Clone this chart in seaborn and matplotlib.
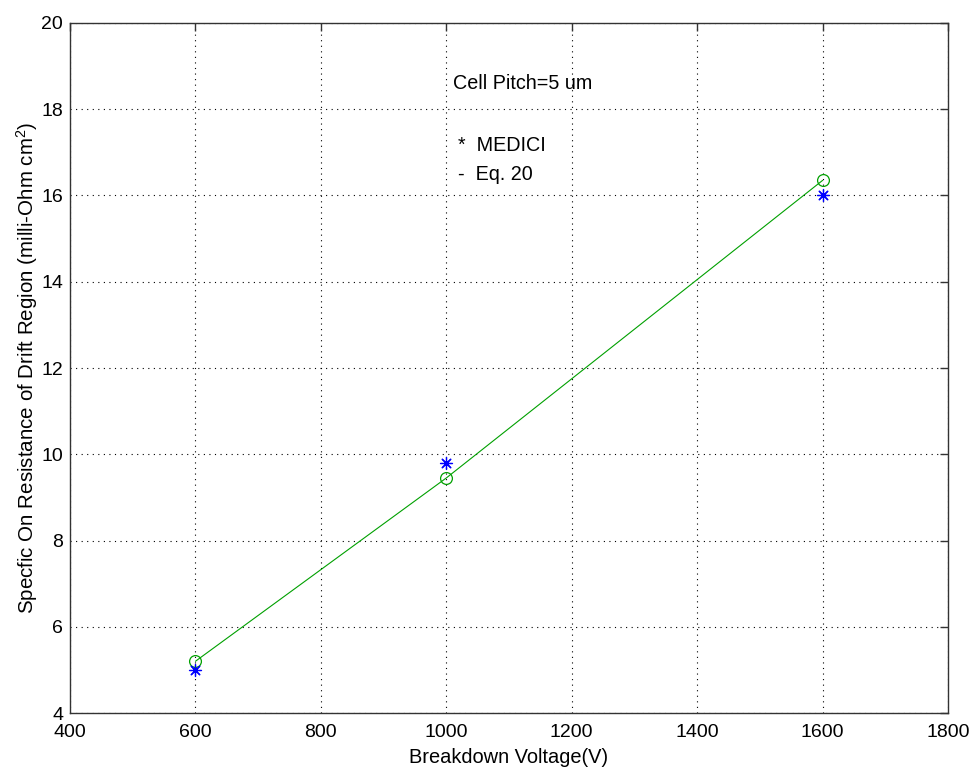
import matplotlib
matplotlib.use("Agg")
import matplotlib.pyplot as plt
import seaborn as sns
import pandas as pd

# Breakdown voltage (V)
voltage = [600, 1000, 1600]
# Specific on-resistance, MEDICI simulation (milli-Ohm cm^2)
medici = [5.0, 9.8, 16.0]
# Specific on-resistance, Eq. 20 model (milli-Ohm cm^2)
eq20 = [5.2, 9.45, 16.35]

x_ticks = [400, 600, 800, 1000, 1200, 1400, 1600, 1800]
y_ticks = [4, 6, 8, 10, 12, 14, 16, 18, 20]

sns.set_theme(style="white")
plt.rcParams["font.family"] = ["Liberation Sans", "DejaVu Sans"]
plt.rcParams["mathtext.fontset"] = "custom"
plt.rcParams["mathtext.rm"] = "Liberation Sans"
plt.rcParams["mathtext.it"] = "Liberation Sans"
plt.rcParams["text.color"] = "black"

df_sim = pd.DataFrame({"V": voltage, "R": medici})
df_eq = pd.DataFrame({"V": voltage, "R": eq20})

fig = plt.figure(figsize=(9.74, 7.69), dpi=100)
ax = fig.add_axes([0.0719, 0.0728, 0.9014, 0.8973])

sns.lineplot(data=df_eq, x="V", y="R", ax=ax, color="#00a000", linewidth=0.8,
             marker="o", markersize=8.5, markerfacecolor="none",
             markeredgecolor="#00a000", markeredgewidth=0.9, zorder=3)
sns.scatterplot(data=df_sim, x="V", y="R", ax=ax, marker=(8, 2, 0),
                color="blue", edgecolor="blue", s=75, linewidth=0.9, zorder=4)

ax.set_xlim(400, 1800)
ax.set_ylim(4, 20)
ax.set_xticks(x_ticks)
ax.set_yticks(y_ticks)
ax.set_xticklabels([str(t) for t in x_ticks])
ax.set_yticklabels([str(t) for t in y_ticks])

ax.grid(True, linestyle=(0, (1, 4)), color="black", linewidth=0.8)
for s in ax.spines.values():
    s.set_visible(True)
    s.set_color("#333333")
    s.set_linewidth(1.0)
ax.tick_params(direction="in", length=6, width=1.0, color="#333333",
               top=True, right=True, labelsize=14, labelcolor="black")
ax.tick_params(axis="x", pad=8)
ax.tick_params(axis="y", pad=5)

ax.set_xlabel("Breakdown Voltage(V)", fontsize=14.4, labelpad=5, color="black")
ax.set_ylabel("Specfic On Resistance of Drift Region (milli-Ohm cm$^2$)",
              fontsize=14.8, labelpad=1, color="black")

ax.text(1011, 18.6, "Cell Pitch=5 um", fontsize=14.2, va="center", ha="left")
ax.text(1018, 17.15, "*  MEDICI", fontsize=14.2, va="center", ha="left")
ax.text(1018, 16.48, "-  Eq. 20", fontsize=14.2, va="center", ha="left")

fig.savefig("out.png", dpi=100, facecolor="white")
